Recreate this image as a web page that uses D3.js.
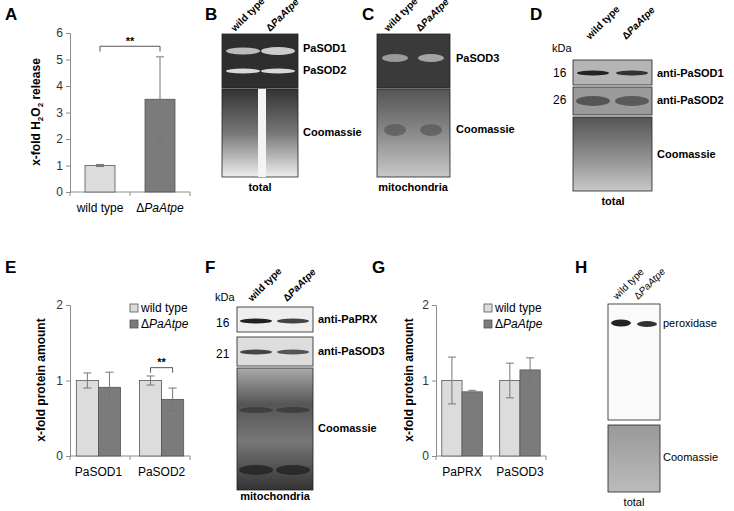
<!DOCTYPE html>
<html><head><meta charset="utf-8">
<script src="https://cdn.jsdelivr.net/npm/d3@7"></script>
<style>body{margin:0;background:#fff}text{font-family:Arial,"Liberation Sans",sans-serif}</style>
</head><body><div id="chart"></div>
<script>
// data
const groupsA = ["wild type", "ΔPaAtpe"];
const valuesA = [1.0, 3.5];
const errA = [0.04, 1.6];
const ticksA = [0, 1, 2, 3, 4, 5, 6];

const groupsE = ["PaSOD1", "PaSOD2"];
const wtE = [1.0, 1.0], mutE = [0.91, 0.75];
const wtErrE = [0.1, 0.06], mutErrE = [0.2, 0.15];

const groupsG = ["PaPRX", "PaSOD3"];
const wtG = [1.0, 1.0], mutG = [0.85, 1.14];
const wtErrG = [0.31, 0.23], mutErrG = [0.02, 0.16];
const ticksEG = [0, 1, 2];

const lightFill = "#dcdcdc", darkFill = "#7b7b7b", axisCol = "#8c8c8c";

const svg = d3.select("#chart").append("svg").attr("width", 734).attr("height", 511);

// panel letters
[["A",5,20],["B",205,20],["C",362,20],["D",530,20],["E",5,273],["F",205,273],["G",372,273],["H",575,273]]
  .forEach(d => svg.append("text").attr("x", d[1]).attr("y", d[2]).attr("font-size", 17).attr("font-weight", "bold").text(d[0]));

function axisStyle(g) {
  g.selectAll("path,line").attr("stroke", axisCol);
  g.selectAll("text").attr("font-size", 12).attr("fill", "#333");
}

function italicLabel(sel, s) {
  if (s.startsWith("Δ")) {
    sel.append("tspan").text("Δ");
    sel.append("tspan").attr("font-style", "italic").text(s.slice(1));
  } else sel.text(s);
}

// ---- Panel A
{
  const x = d3.scaleBand().domain(groupsA).range([70, 190]).paddingInner(0.5).paddingOuter(0.25);
  const y = d3.scaleLinear().domain([0, 6]).range([192, 33]);
  const g = svg.append("g");
  g.append("g").attr("transform", "translate(70,0)").call(d3.axisLeft(y).tickValues(ticksA).tickFormat(d3.format("d")).tickSize(4)).call(axisStyle);
  g.append("line").attr("x1", 70).attr("x2", 190).attr("y1", 192).attr("y2", 192).attr("stroke", axisCol);
  [70,130,190].forEach(t => g.append("line").attr("x1", t).attr("x2", t).attr("y1", 192).attr("y2", 196).attr("stroke", axisCol));
  groupsA.forEach((k, i) => {
    g.append("rect").attr("x", x(k)).attr("y", y(valuesA[i])).attr("width", x.bandwidth()).attr("height", 192 - y(valuesA[i]))
      .attr("fill", i ? darkFill : lightFill).attr("stroke", "#555").attr("stroke-width", 0.8);
    const cx = x(k) + x.bandwidth() / 2;
    g.append("line").attr("x1", cx).attr("x2", cx).attr("y1", y(valuesA[i] + errA[i])).attr("y2", y(valuesA[i] - errA[i])).attr("stroke", "#777");
    [valuesA[i] + errA[i], valuesA[i] - errA[i]].forEach(v => g.append("line").attr("x1", cx - 4).attr("x2", cx + 4).attr("y1", y(v)).attr("y2", y(v)).attr("stroke", "#777"));
    italicLabel(g.append("text").attr("x", cx).attr("y", 212).attr("text-anchor", "middle").attr("font-size", 12), k);
  });
  const c0 = x(groupsA[0]) + x.bandwidth() / 2, c1 = x(groupsA[1]) + x.bandwidth() / 2;
  g.append("path").attr("d", `M${c0},${y(5.3)}V${y(5.5)}H${c1}V${y(5.3)}`).attr("fill", "none").attr("stroke", "#555");
  g.append("text").attr("x", (c0 + c1) / 2).attr("y", y(5.55)).attr("text-anchor", "middle").attr("font-size", 11).attr("font-weight", "bold").text("**");
  const yl = g.append("text").attr("transform", "translate(40,112) rotate(-90)").attr("text-anchor", "middle").attr("font-size", 12).attr("font-weight", "bold");
  yl.append("tspan").text("x-fold H");
  yl.append("tspan").attr("font-size", 8).attr("dy", 3).text("2");
  yl.append("tspan").attr("dy", -3).text("O");
  yl.append("tspan").attr("font-size", 8).attr("dy", 3).text("2");
  yl.append("tspan").attr("dy", -3).text(" release");
}

// ---- grouped bar charts (E and G)
function grouped(x0, x1, groups, wt, mut, wtErr, mutErr, sig, ylx, legx) {
  const y = d3.scaleLinear().domain([0, 2]).range([456, 305]);
  const x = d3.scaleBand().domain(groups).range([x0, x1]).paddingInner(0.3).paddingOuter(0.1);
  const g = svg.append("g");
  g.append("g").attr("transform", `translate(${x0},0)`).call(d3.axisLeft(y).tickValues(ticksEG).tickFormat(d3.format("d")).tickSize(4)).call(axisStyle);
  g.append("line").attr("x1", x0).attr("x2", x1).attr("y1", 456).attr("y2", 456).attr("stroke", axisCol);
  [x0, (x0 + x1) / 2, x1].forEach(t => g.append("line").attr("x1", t).attr("x2", t).attr("y1", 456).attr("y2", 460).attr("stroke", axisCol));
  const bw = x.bandwidth() / 2;
  groups.forEach((k, i) => {
    [[wt[i], wtErr[i], lightFill], [mut[i], mutErr[i], darkFill]].forEach((d, j) => {
      const bx = x(k) + j * bw;
      g.append("rect").attr("x", bx).attr("y", y(d[0])).attr("width", bw).attr("height", 456 - y(d[0]))
        .attr("fill", d[2]).attr("stroke", "#555").attr("stroke-width", 0.8);
      const cx = bx + bw / 2;
      g.append("line").attr("x1", cx).attr("x2", cx).attr("y1", y(d[0] + d[1])).attr("y2", y(d[0] - d[1])).attr("stroke", "#777");
      [d[0] + d[1], d[0] - d[1]].forEach(v => g.append("line").attr("x1", cx - 4).attr("x2", cx + 4).attr("y1", y(v)).attr("y2", y(v)).attr("stroke", "#777"));
    });
    g.append("text").attr("x", x(k) + x.bandwidth() / 2).attr("y", 476).attr("text-anchor", "middle").attr("font-size", 12).text(k);
    if (sig === i) {
      const a = x(k) + bw / 2, b = x(k) + 1.5 * bw, top = y(1.17);
      g.append("path").attr("d", `M${a},${top + 5}V${top}H${b}V${top + 5}`).attr("fill", "none").attr("stroke", "#555");
      g.append("text").attr("x", (a + b) / 2).attr("y", top - 2).attr("text-anchor", "middle").attr("font-size", 11).attr("font-weight", "bold").text("**");
    }
  });
  g.append("text").attr("transform", `translate(${ylx},380) rotate(-90)`).attr("text-anchor", "middle").attr("font-size", 12).attr("font-weight", "bold").text("x-fold protein amount");
  [["wild type", lightFill], ["ΔPaAtpe", darkFill]].forEach((d, j) => {
    g.append("rect").attr("x", legx).attr("y", 304 + j * 16).attr("width", 8).attr("height", 8).attr("fill", d[1]).attr("stroke", "#555").attr("stroke-width", 0.8);
    italicLabel(g.append("text").attr("x", legx + 11).attr("y", 312 + j * 16).attr("font-size", 12), d[0]);
  });
}
grouped(70, 190, groupsE, wtE, mutE, wtErrE, mutErrE, 1, 45, 130);
grouped(436, 546, groupsG, wtG, mutG, wtErrG, mutErrG, -1, 413, 484);

// ---- gel-like blots (decorative images)
const defs = svg.append("defs");
function grad(id, stops) {
  const lg = defs.append("linearGradient").attr("id", id).attr("x1", 0).attr("y1", 0).attr("x2", 0).attr("y2", 1);
  stops.forEach(s => lg.append("stop").attr("offset", s[0]).attr("stop-color", s[1]));
}
grad("coom", [[0, "#333"], [0.5, "#777"], [1, "#eee"]]);
grad("coomF", [[0, "#aaa"], [0.3, "#555"], [0.6, "#777"], [1, "#333"]]);
grad("coomD", [[0, "#555"], [0.5, "#8a8a8a"], [1, "#c8c8c8"]]);
grad("coomH", [[0, "#999"], [1, "#bbb"]]);

function box(x, y, w, h, fill) {
  svg.append("rect").attr("x", x).attr("y", y).attr("width", w).attr("height", h).attr("fill", fill).attr("stroke", "#222").attr("stroke-width", 0.8);
}
function band(cx, cy, w, h, col, op) {
  svg.append("ellipse").attr("cx", cx).attr("cy", cy).attr("rx", w / 2).attr("ry", h / 2).attr("fill", col).attr("opacity", op || 1);
}
function txt(x, y, s, o) {
  o = o || {};
  const t = svg.append("text").attr("x", x).attr("y", y).attr("font-size", o.size || 11).attr("font-weight", o.bold === false ? "normal" : "bold")
    .attr("text-anchor", o.anchor || "start");
  italicLabel(t, s);
  return t;
}
function lanes(x1, x2, y, bold) {
  [["wild type", x1], ["ΔPaAtpe", x2]].forEach(d => {
    const t = svg.append("text").attr("transform", `translate(${d[1]},${y}) rotate(-45)`).attr("font-size", 10)
      .attr("font-weight", bold === false ? "normal" : "bold");
    italicLabel(t, d[0]);
  });
}

// B
lanes(235, 270, 32);
box(222, 34, 76, 54, "#2e2e2e");
band(243, 51, 34, 7, "#bbb"); band(278, 51, 34, 8, "#ccc");
band(243, 71, 34, 5, "#d8d8d8"); band(278, 71, 34, 5, "#d8d8d8");
box(222, 89, 76, 88, "url(#coom)");
svg.append("rect").attr("x", 258).attr("y", 89).attr("width", 8).attr("height", 88).attr("fill", "#f4f4f4");
txt(303, 52, "PaSOD1"); txt(303, 74, "PaSOD2"); txt(303, 136, "Coomassie"); txt(260, 191, "total", {anchor: "middle"});

// C
lanes(388, 420, 32);
box(377, 34, 73, 54, "#3a3a3a");
band(395, 58, 26, 8, "#9a9a9a"); band(431, 58, 26, 8, "#a5a5a5");
box(377, 89, 73, 88, "url(#coomD)");
band(395, 130, 22, 12, "#555", 0.7); band(431, 130, 22, 12, "#555", 0.7);
txt(456, 62, "PaSOD3"); txt(456, 133, "Coomassie"); txt(413, 191, "mitochondria", {anchor: "middle"});

// D
lanes(590, 626, 40);
txt(552, 52, "kDa", {bold: false});
txt(553, 77, "16", {bold: false, size: 12}); txt(553, 104, "26", {bold: false, size: 12});
box(573, 60, 79, 25, "#b5b5b5"); band(593, 73, 32, 5, "#222"); band(632, 73, 32, 5, "#333");
box(573, 87, 79, 28, "#9a9a9a"); band(593, 101, 34, 10, "#555"); band(632, 101, 34, 10, "#5a5a5a");
box(573, 117, 79, 74, "url(#coomD)");
txt(657, 77, "anti-PaSOD1"); txt(657, 104, "anti-PaSOD2"); txt(657, 158, "Coomassie"); txt(613, 205, "total", {anchor: "middle"});

// F
lanes(252, 287, 302);
txt(215, 301, "kDa", {bold: false});
txt(216, 327, "16", {bold: false, size: 12}); txt(216, 358, "21", {bold: false, size: 12});
box(237, 307, 76, 25, "#eee"); band(256, 321, 32, 5, "#222"); band(293, 321, 32, 5, "#444");
box(237, 337, 76, 29, "#ddd"); band(256, 352, 32, 5, "#444"); band(293, 352, 32, 5, "#555");
box(237, 368, 76, 122, "url(#coomF)");
band(256, 410, 34, 6, "#333", 0.7); band(293, 410, 34, 6, "#333", 0.7);
band(256, 470, 34, 10, "#222", 0.8); band(293, 470, 34, 10, "#222", 0.8);
txt(318, 323, "anti-PaPRX"); txt(318, 355, "anti-PaSOD3"); txt(318, 432, "Coomassie"); txt(275, 500, "mitochondria", {anchor: "middle"});

// H
lanes(617, 638, 300, false);
box(608, 304, 52, 116, "#fafafa");
band(621, 323, 20, 7, "#222"); band(647, 324, 20, 6, "#333");
box(608, 425, 52, 67, "url(#coomH)");
txt(663, 327, "peroxidase", {bold: false}); txt(663, 461, "Coomassie", {bold: false}); txt(634, 506, "total", {anchor: "middle", bold: false});
</script></body></html>
